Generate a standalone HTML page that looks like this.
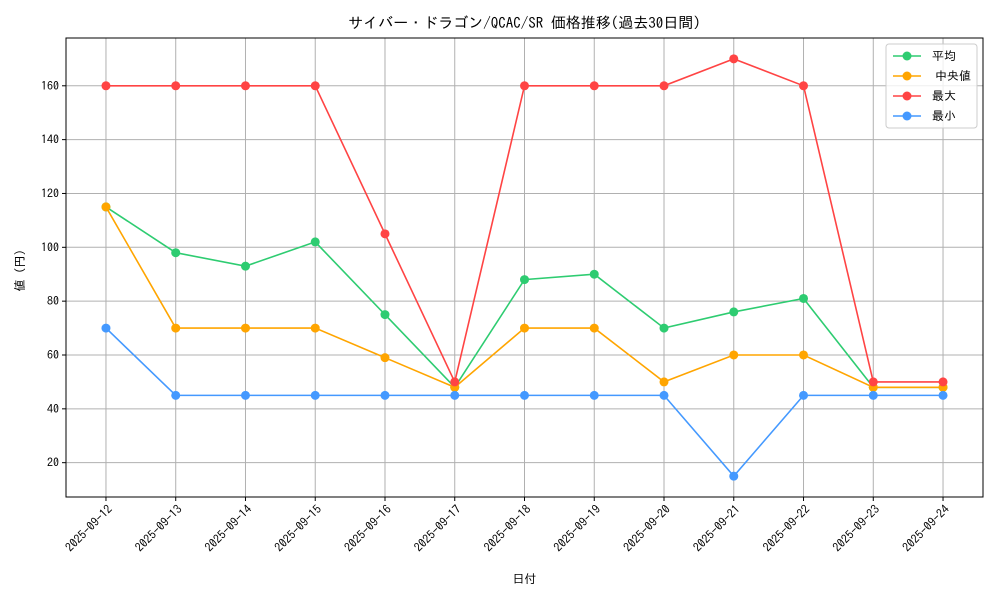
<!DOCTYPE html>
<html><head><meta charset="utf-8"><style>
body{margin:0;background:#fff}
svg text{font-family:"IPAGothic","Liberation Sans","Noto Sans CJK JP",sans-serif;fill:#000}
</style></head><body>
<svg id="chart" width="1000" height="600" xmlns="http://www.w3.org/2000/svg">
<rect width="1000" height="600" fill="#fff"/>
<g id="grid"></g><g id="axes"></g><g id="series"></g><g id="legend"></g>
</svg>
<script>
const dates=["2025-09-12","2025-09-13","2025-09-14","2025-09-15","2025-09-16","2025-09-17","2025-09-18","2025-09-19","2025-09-20","2025-09-21","2025-09-22","2025-09-23","2025-09-24"];
const avgValues=[115,98,93,102,75,48,88,90,70,76,81,48,48];
const medianValues=[115,70,70,70,59,48,70,70,50,60,60,48,48];
const maxValues=[160,160,160,160,105,50,160,160,160,170,160,50,50];
const minValues=[70,45,45,45,45,45,45,45,45,15,45,45,45];
const yTicks=[20,40,60,80,100,120,140,160];
const seriesNames=["平均","中央値","最大","最小"];
const NS="http://www.w3.org/2000/svg";
const L=66,R=983,T=38,B=497;
const all=[].concat(avgValues,medianValues,maxValues,minValues);
const dmin=Math.min(...all),dmax=Math.max(...all),pad=(dmax-dmin)*0.05;
const y0=dmin-pad,y1=dmax+pad;
const n=dates.length,xpad=0.573;
function xs(i){return L+(i+xpad)/(n-1+2*xpad)*(R-L);}
function ys(v){return B-(v-y0)/(y1-y0)*(B-T);}
function mk(tag,attrs,parent){const e=document.createElementNS(NS,tag);for(const k in attrs)e.setAttribute(k,attrs[k]);parent.appendChild(e);return e;}
const grid=document.getElementById('grid'),axes=document.getElementById('axes'),ser=document.getElementById('series'),leg=document.getElementById('legend');
dates.forEach((d,i)=>{const x=xs(i);
 const g=mk('line',{x1:x,x2:x,y1:T,y2:B,stroke:'#b0b0b0','stroke-width':1},grid);
 
 
 const tk=mk('line',{x1:x,x2:x,y1:B,y2:B+4,stroke:'#000'},axes);
 
 
 const ax=x+7,ay=B+13;
 const t=mk('text',{x:ax,y:ay,'font-size':12,'text-anchor':'end',transform:`rotate(-45 ${ax} ${ay})`},axes);
 t.textContent=d;
 
 
});
yTicks.forEach(v=>{const y=ys(v);
 const g=mk('line',{x1:L,x2:R,y1:y,y2:y,stroke:'#b0b0b0','stroke-width':1},grid);
 
 
 const tk=mk('line',{x1:L-4,x2:L,y1:y,y2:y,stroke:'#000'},axes);
 
 
 const t=mk('text',{x:L-7,y:y+4,'font-size':12,'text-anchor':'end'},axes);
 t.textContent=v;
 
 
});
const frame=mk('rect',{x:L,y:T,width:R-L,height:B-T,fill:'none',stroke:'#000','stroke-width':1},axes);


const title=mk('text',{x:(L+R)/2,y:28,'font-size':15,'text-anchor':'middle'},axes);
title.textContent="サイバー・ドラゴン/QCAC/SR 価格推移(過去30日間)";


const xl=mk('text',{x:(L+R)/2,y:583,'font-size':12,'text-anchor':'middle'},axes);
xl.textContent="日付";


const yl=mk('text',{x:24,y:(T+B)/2,'font-size':12,'text-anchor':'middle',transform:`rotate(-90 24 ${(T+B)/2})`},axes);
yl.textContent="値（円）";


const seriesData=[avgValues,medianValues,maxValues,minValues];
const colors=["#2ecc71","#ffa500","#ff4444","#4499ff"];
const keys=["avg","median","max","min"];
seriesData.forEach((vals,si)=>{
 const pts=vals.map((v,i)=>xs(i)+','+ys(v)).join(' ');
 const pl=mk('polyline',{points:pts,fill:'none',stroke:colors[si],'stroke-width':1.6},ser);
 
 
 vals.forEach((v,i)=>{const c=mk('circle',{cx:xs(i),cy:ys(v),r:4.5,fill:colors[si]},ser);
  
  });
});
const lb=mk('rect',{x:886,y:44,width:91,height:84,rx:3,fill:'#fff','fill-opacity':0.8,stroke:'#ccc'},leg);


seriesNames.forEach((nm,i)=>{const y=56+i*20;
 const g=mk('g',{},leg);
 
 
 mk('line',{x1:893,x2:921,y1:y,y2:y,stroke:colors[i],'stroke-width':1.6},g);
 mk('circle',{cx:907,cy:y,r:4.5,fill:colors[i]},g);
 const t=mk('text',{x:i===1?935:932,y:y+4,'font-size':12},g);
 t.textContent=nm;
});
</script>
</body></html>
